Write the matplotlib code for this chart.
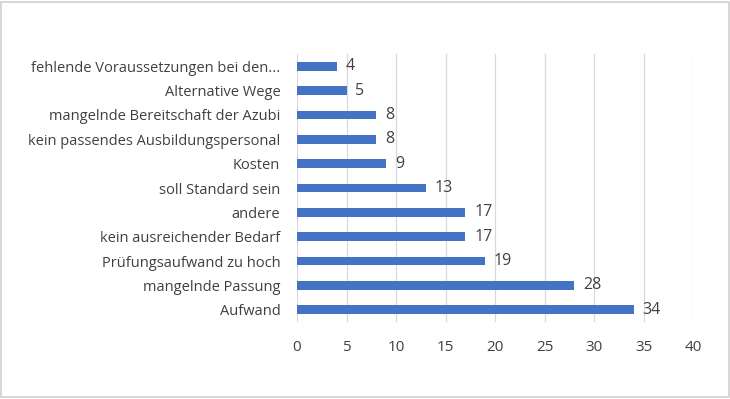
import matplotlib.pyplot as plt
from matplotlib.patches import Rectangle

plt.rcParams['font.family'] = ['Open Sans', 'DejaVu Sans']

categories = ['Aufwand', 'mangelnde Passung', 'Prüfungsaufwand zu hoch',
              'kein ausreichender Bedarf', 'andere', 'soll Standard sein',
              'Kosten', 'kein passendes Ausbildungspersonal',
              'mangelnde Bereitschaft der Azubi', 'Alternative Wege',
              'fehlende Voraussetzungen bei den...']
values = [34, 28, 19, 17, 17, 13, 9, 8, 8, 5, 4]
xticks = [0, 5, 10, 15, 20, 25, 30, 35, 40]

txt = '#404040'

fig = plt.figure(figsize=(7.3, 3.99), dpi=100)
ax = fig.add_axes([297 / 730, 1 - 322 / 399, 396 / 730, 268 / 399])

ypos = range(len(categories))
ax.barh(ypos, values, height=0.36, color='#4472C4', zorder=3)
for y, v in zip(ypos, values):
    ax.text(v + 0.9, y, str(v), va='center', ha='left', fontsize=11.5, color=txt)

ax.set_xlim(0, 40)
ax.set_ylim(-0.5, len(categories) - 0.5)
ax.set_xticks(xticks)
ax.set_yticks(list(ypos))
ax.set_yticklabels(categories)
ax.tick_params(axis='both', length=0, labelsize=10.5, colors=txt)
ax.tick_params(axis='x', labelsize=11, pad=13)
ax.tick_params(axis='y', pad=12)
ax.grid(axis='x', color='#d9d9d9', linewidth=0.9, zorder=0)
for s in ax.spines.values():
    s.set_visible(False)

fig.patches.append(Rectangle((0.002, 0.004), 0.996, 0.992, transform=fig.transFigure,
                             fill=False, edgecolor='#d0d0d0', linewidth=1.2))

fig.savefig('out.png', dpi=100)
